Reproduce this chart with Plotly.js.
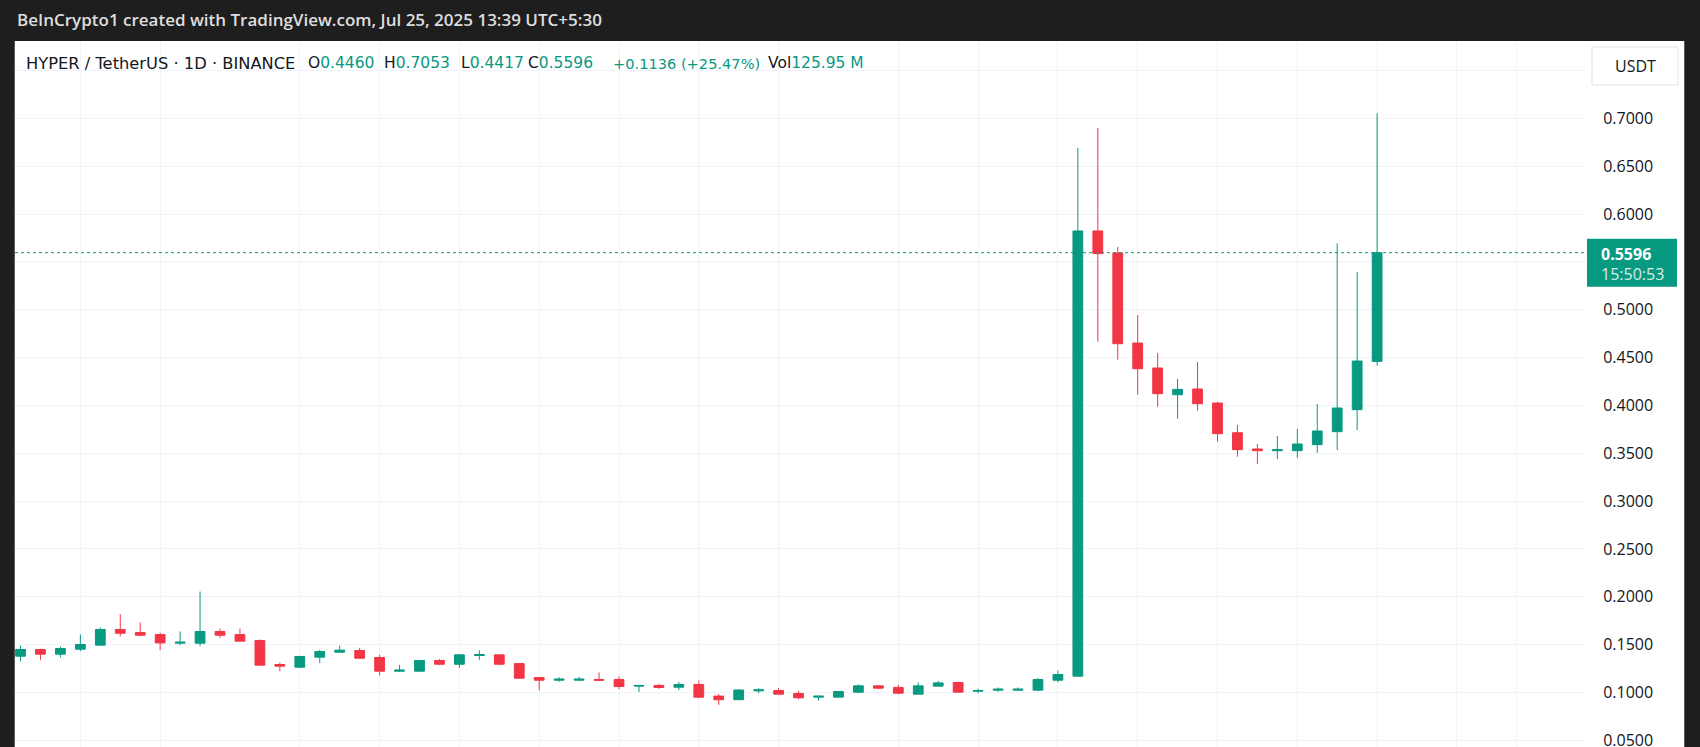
<!DOCTYPE html>
<html>
<head>
<meta charset="utf-8">
<script src="https://cdn.plot.ly/plotly-3.0.1.min.js"></script>
<style>
  html, body { margin: 0; padding: 0; background: #1e1e1e; }
  #chart { width: 1700px; height: 747px; }
</style>
</head>
<body>
<div id="chart"></div>
<script>
// ---- data (daily candles, HYPER/USDT, Binance) ----
const firstDate = '2025-05-18';
const openVals = [0.1380,0.1450,0.1401,0.1453,0.1495,0.1659,0.1627,0.1606,0.1516,0.1516,
  0.1638,0.1606,0.1544,0.1293,0.1265,0.1370,0.1422,0.1439,0.1366,0.1223,
  0.1223,0.1335,0.1296,0.1387,0.1394,0.1303,0.1157,0.1129,0.1129,0.1136,
  0.1136,0.1067,0.1074,0.1056,0.1084,0.0963,0.0925,0.1018,0.1021,0.0990,
  0.0952,0.0952,0.1004,0.1070,0.1053,0.0983,0.1067,0.1105,0.1014,0.1025,
  0.1025,0.1025,0.1129,0.1171,0.5823,0.5593,0.4652,0.4391,0.4112,0.4172,
  0.4025,0.3715,0.3545,0.3527,0.3527,0.3590,0.3726,0.3956,0.4460];
const highVals = [0.1491,0.1455,0.1481,0.1606,0.1680,0.1819,0.1732,0.1627,0.1638,0.2056,
  0.1669,0.1669,0.1554,0.1314,0.1383,0.1446,0.1491,0.1467,0.1394,0.1289,
  0.1335,0.1349,0.1401,0.1439,0.1396,0.1305,0.1159,0.1161,0.1164,0.1209,
  0.1168,0.1076,0.1091,0.1112,0.1126,0.0984,0.1037,0.1046,0.1046,0.1018,
  0.0962,0.1013,0.1084,0.1074,0.1081,0.1105,0.1122,0.1115,0.1042,0.1053,
  0.1053,0.1150,0.1230,0.6690,0.6899,0.5656,0.4945,0.4548,0.4276,0.4454,
  0.4036,0.3796,0.3597,0.3681,0.3754,0.4015,0.5694,0.5394,0.7053];
const lowVals = [0.1328,0.1338,0.1366,0.1432,0.1495,0.1586,0.1589,0.1443,0.1495,0.1485,
  0.1572,0.1537,0.1286,0.1223,0.1255,0.1307,0.1420,0.1359,0.1181,0.1213,
  0.1220,0.1286,0.1258,0.1342,0.1286,0.1150,0.1025,0.1112,0.1119,0.1126,
  0.1035,0.1004,0.1039,0.1025,0.0941,0.0872,0.0922,0.0993,0.0983,0.0931,
  0.0917,0.0950,0.0993,0.1035,0.0983,0.0983,0.1067,0.1004,0.0993,0.1007,
  0.1018,0.1014,0.1108,0.1165,0.4666,0.4478,0.4112,0.3987,0.3862,0.3945,
  0.3621,0.3465,0.3388,0.3440,0.3451,0.3506,0.3534,0.3743,0.4417];
const closeVals = [0.1450,0.1401,0.1460,0.1502,0.1659,0.1620,0.1599,0.1519,0.1526,0.1638,
  0.1599,0.1537,0.1286,0.1276,0.1377,0.1429,0.1443,0.1359,0.1223,0.1234,
  0.1335,0.1296,0.1394,0.1397,0.1296,0.1150,0.1129,0.1140,0.1140,0.1129,
  0.1063,0.1074,0.1053,0.1084,0.0952,0.0925,0.1026,0.1028,0.0983,0.0945,
  0.0962,0.1011,0.1070,0.1046,0.0993,0.1070,0.1101,0.1004,0.1021,0.1035,
  0.1035,0.1136,0.1188,0.5823,0.5586,0.4645,0.4384,0.4123,0.4168,0.4018,
  0.3705,0.3538,0.3527,0.3538,0.3597,0.3733,0.3973,0.4464,0.5596];
const timeGridDates = ['2025-05-21','2025-05-25','2025-06-01','2025-06-05','2025-06-09',
  '2025-06-13','2025-06-17','2025-06-21','2025-06-25','2025-07-01','2025-07-05',
  '2025-07-09','2025-07-13','2025-07-17','2025-07-21','2025-07-25','2025-07-29','2025-08-01'];
const priceTicks = [0.05,0.10,0.15,0.20,0.25,0.30,0.35,0.40,0.45,0.50,0.55,0.60,0.65,0.70,0.75];
const hiddenTicks = [0.55, 0.75];
const headerText = 'BeInCrypto1 created with TradingView.com, Jul 25, 2025 13:39 UTC+5:30';
const symbolText = 'HYPER / TetherUS · 1D · BINANCE';
const legendO = '0.4460', legendH = '0.7053', legendL = '0.4417', legendC = '0.5596';
const legendChange = '+0.1136 (+25.47%)';
const legendVol = '125.95 M';
const countdown = '15:50:53';
const currency = 'USDT';

// ---- derived ----
const DAY = 86400000;
const t0 = Date.UTC(2025, 4, 18);
const dates = openVals.map((_, i) => new Date(t0 + i * DAY).toISOString().slice(0, 10));
const lastClose = closeVals[closeVals.length - 1];
const tickText = priceTicks.map(v => hiddenTicks.some(h => Math.abs(h - v) < 1e-9) ? '' : v.toFixed(4));

const UP = '#089981', DOWN = '#F23645';
const W = 1700, H = 747;
const L = 15, R = 1585, T = 41, B = 747;
const pw = R - L, ph = B - T;
const px = x => (x - L) / pw;
const py = y => (B - y) / ph;

const trace = {
  type: 'candlestick',
  x: dates, open: openVals, high: highVals, low: lowVals, close: closeVals,
  increasing: { line: { color: UP, width: 1 }, fillcolor: UP },
  decreasing: { line: { color: DOWN, width: 1 }, fillcolor: DOWN },
  whiskerwidth: 0,
  hoverinfo: 'skip'
};

const dayPx = 19.95;
const xStart = t0 - (20.5 - L) / dayPx * DAY;
const xEnd = xStart + pw / dayPx * DAY;

const font = 'Open Sans, Noto Sans, sans-serif';
const legendFont = 'DejaVu Sans, sans-serif';
const dark = '#131722';
const grp = (lab, val) => lab + '<span style="color:' + UP + '">' + val + '</span>';
const legAnn = (x, text, size, color) => ({
  xref: 'paper', yref: 'paper', x: px(x), y: py(63), xanchor: 'left', yanchor: 'middle',
  text: text, showarrow: false, font: { family: legendFont, size: size, color: color || dark }
});

const layout = {
  width: W, height: H,
  margin: { l: L, r: W - R, t: T, b: H - B, pad: 0 },
  paper_bgcolor: '#1e1e1e',
  plot_bgcolor: '#ffffff',
  showlegend: false,
  boxgap: 0.3,
  xaxis: {
    type: 'date', range: [xStart, xEnd],
    rangeslider: { visible: false },
    tickmode: 'array', tickvals: timeGridDates, showticklabels: false,
    showgrid: true, gridcolor: '#f0f3fa', gridwidth: 1,
    ticks: '', showline: false, zeroline: false, fixedrange: true
  },
  yaxis: {
    side: 'right', range: [0.0431, 0.7808],
    tickmode: 'array', tickvals: priceTicks, ticktext: tickText,
    showgrid: true, gridcolor: '#f0f3fa', gridwidth: 1,
    ticks: 'outside', ticklen: 14, tickcolor: 'rgba(0,0,0,0)',
    ticklabeloverflow: 'allow',
    tickfont: { family: font, size: 16, color: dark },
    showline: false, zeroline: false, fixedrange: true
  },
  shapes: [
    { type: 'rect', xref: 'paper', yref: 'paper', x0: 1, x1: px(1684), y0: 0, y1: 1,
      fillcolor: '#ffffff', line: { width: 0 }, layer: 'below' },
    { type: 'line', xref: 'paper', yref: 'paper', x0: px(14.5), x1: px(14.5), y0: 0, y1: 1,
      line: { color: '#5a5a5a', width: 1 } },
    { type: 'line', xref: 'paper', yref: 'paper', x0: px(1684.5), x1: px(1684.5), y0: 0, y1: 1,
      line: { color: '#5a5a5a', width: 1 } },
    { type: 'line', xref: 'paper', yref: 'y', x0: 0, x1: 1, y0: lastClose, y1: lastClose,
      line: { color: UP, width: 1, dash: 'dot' } },
    { type: 'rect', xref: 'paper', yref: 'y', ysizemode: 'pixel', yanchor: lastClose,
      x0: px(1587), x1: px(1677), y0: -34, y1: 14,
      fillcolor: UP, line: { width: 0 } },
    { type: 'rect', xref: 'paper', yref: 'paper', x0: px(1592), x1: px(1678), y0: py(85), y1: py(47),
      fillcolor: '#ffffff', line: { color: '#e0e3eb', width: 1 } }
  ],
  annotations: [
    { xref: 'paper', yref: 'paper', x: px(15), y: py(19.5), xanchor: 'left', yanchor: 'middle',
      text: headerText, showarrow: false,
      font: { family: font, size: 17, color: '#dedede', weight: 600 } },
    legAnn(24, symbolText, 16.3),
    legAnn(306, grp('O', legendO), 15.5),
    legAnn(382, grp('H', legendH), 15.5),
    legAnn(459, grp('L', legendL), 15.5),
    legAnn(526, grp('C', legendC), 15.5),
    legAnn(611, legendChange, 14.6, UP),
    legAnn(766, grp('Vol', legendVol), 15.5),
    { xref: 'paper', yref: 'paper', x: px(1635), y: py(66), xanchor: 'center', yanchor: 'middle',
      text: currency, showarrow: false, font: { family: font, size: 16, color: dark } },
    { xref: 'paper', yref: 'y', x: px(1599), y: lastClose, xanchor: 'left', yanchor: 'middle',
      text: lastClose.toFixed(4), showarrow: false, yshift: -1,
      font: { family: font, size: 16, color: '#ffffff', weight: 700 } },
    { xref: 'paper', yref: 'y', x: px(1599), y: lastClose, xanchor: 'left', yanchor: 'middle',
      text: countdown, showarrow: false, yshift: -21,
      font: { family: font, size: 16, color: 'rgba(255,255,255,0.85)' } }
  ]
};

Plotly.newPlot('chart', [trace], layout, { staticPlot: true, displayModeBar: false });
</script>
</body>
</html>
